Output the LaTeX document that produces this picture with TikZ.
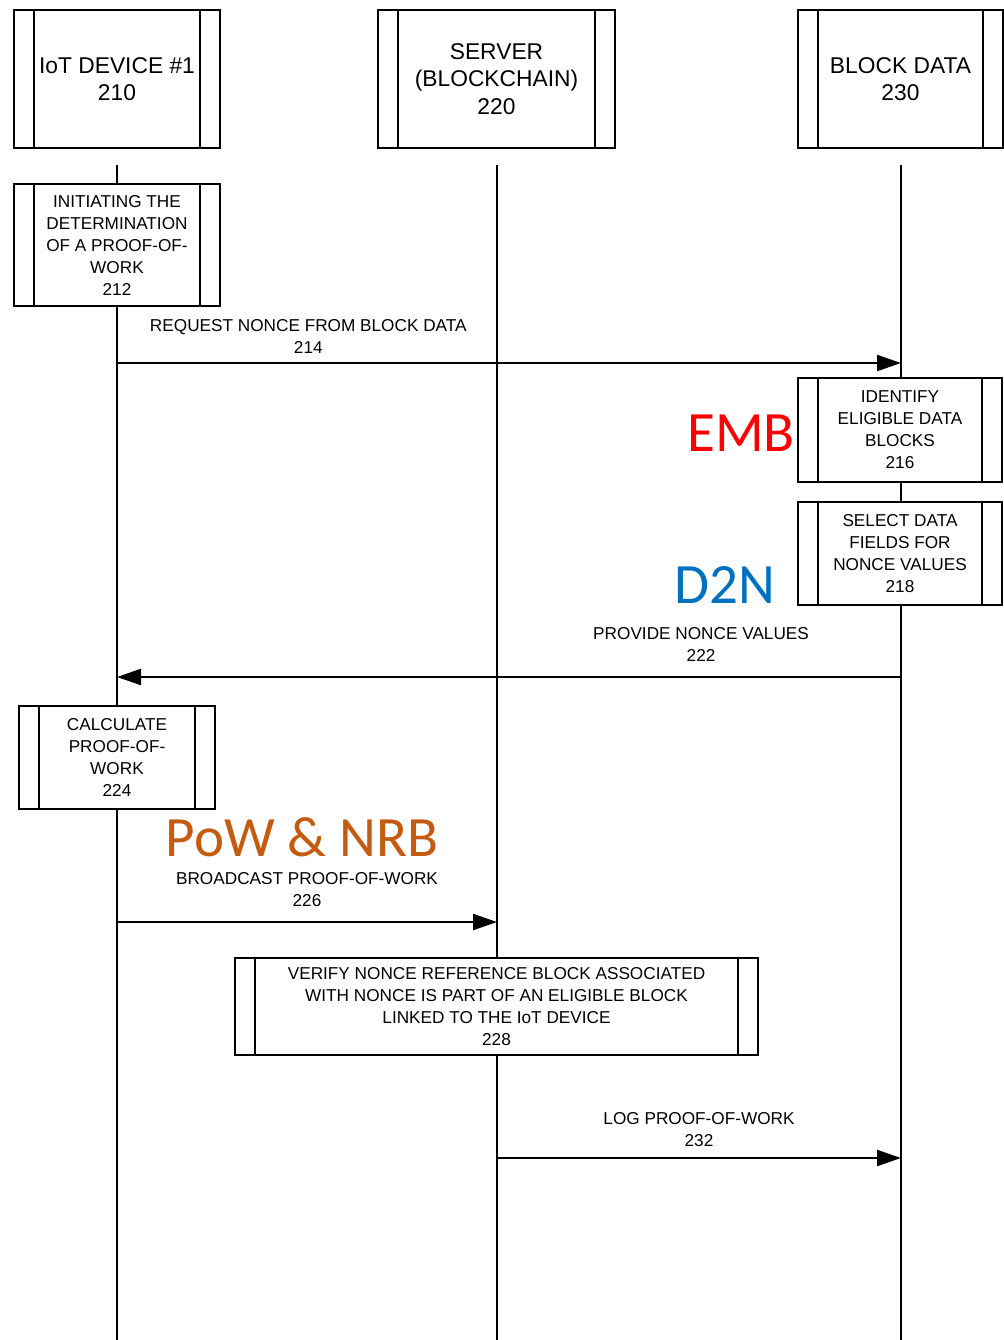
\documentclass[tikz,border=0pt]{standalone}
\usepackage{fontspec}
\setmainfont{Liberation Sans}
\newfontfamily\tagfont{Carlito}
\usetikzlibrary{arrows.meta}
\usetikzlibrary{positioning}

\definecolor{embred}{HTML}{FF0000}
\definecolor{dtwonblue}{HTML}{0070C0}
\definecolor{powbrown}{HTML}{C55A11}

\tikzset{
    sidebars/.style = {path picture={
        \draw[line width=1pt] ([xshift=10pt]path picture bounding box.north west)
            -- ([xshift=10pt]path picture bounding box.south west);
        \draw[line width=1pt] ([xshift=-10pt]path picture bounding box.north east)
            -- ([xshift=-10pt]path picture bounding box.south east);}}
}

\begin{document}
\begin{tikzpicture}[x=0.5pt, y=-0.5pt,
            head/.style = {draw, line width=1pt, fill=white, sidebars,
                align=center, inner sep=0pt,
                font=\fontsize{11.4}{13.8}\selectfont},
            act/.style = {draw, line width=1pt, fill=white, sidebars,
                align=center, inner sep=0pt,
                font=\fontsize{8.6}{11}\selectfont},
            life/.style = {line width=1.1pt},
            msg/.style = {line width=1.1pt, -{Triangle[length=12pt,width=8pt]}},
            lbl/.style = {above=4.2pt, inner sep=0pt, align=center,
                font=\fontsize{8.6}{11}\selectfont},
            tag/.style = {inner sep=0pt, font=\tagfont\fontsize{28.5}{30}\selectfont}]
            \useasboundingbox (0,0) rectangle (1004,1340);
            % lifelines
            \coordinate (iotA) at (117,165);
            \coordinate (iotB) at (117,1340);
            \coordinate (srvA) at (497,165);
            \coordinate (srvB) at (497,1340);
            \coordinate (blkA) at (901,165);
            \coordinate (blkB) at (901,1340);
            \draw[life] (iotA) -- (iotB);
            \draw[life] (srvA) -- (srvB);
            \draw[life] (blkA) -- (blkB);
            % heads
            \node[head, minimum width=103pt, minimum height=69pt] (iot) at (117,79)
                {IoT DEVICE \#1\\210};
            \node[head, minimum width=118.5pt, minimum height=69pt] (srv) at (496.5,79)
                {SERVER\\(BLOCKCHAIN)\\220};
            \node[head, minimum width=102.5pt, minimum height=69pt] (blk) at (900.5,79)
                {BLOCK DATA\\230};
            % activities
            \node[act, minimum width=103pt, minimum height=61pt] (a212) at (117,245)
                {INITIATING THE\\DETERMINATION\\OF A PROOF-OF-\\WORK\\212};
            \node[act, minimum width=102pt, minimum height=52pt] (a216) at (900,430)
                {IDENTIFY\\ELIGIBLE DATA\\BLOCKS\\216};
            \node[act, minimum width=102pt, minimum height=51.5pt] (a218) at (900,553.5)
                {SELECT DATA\\FIELDS FOR\\NONCE VALUES\\218};
            \node[act, minimum width=98pt, minimum height=51.5pt] (a224) at (117,757.5)
                {CALCULATE\\PROOF-OF-\\WORK\\224};
            \node[act, minimum width=261.5pt, minimum height=48.5pt] (a228) at (496.5,1006.5)
                {VERIFY NONCE REFERENCE BLOCK ASSOCIATED\\WITH NONCE IS PART OF AN ELIGIBLE BLOCK\\LINKED TO THE IoT DEVICE\\228};
            % messages
            \coordinate (m214a) at (117,363);
            \coordinate (m214b) at (901,363);
            \coordinate (m222a) at (901,677);
            \coordinate (m222b) at (117,677);
            \coordinate (m226a) at (117,922);
            \coordinate (m226b) at (497,922);
            \coordinate (m232a) at (497,1158);
            \coordinate (m232b) at (901,1158);
            \draw[msg] (m214a) -- node[lbl, pos=0.244] (l214) {REQUEST NONCE FROM BLOCK DATA\\214} (m214b);
            \draw[msg] (m222a) -- node[lbl, pos=0.255, yshift=3pt] (l222) {PROVIDE NONCE VALUES\\222} (m222b);
            \draw[msg] (m226a) -- node[lbl, yshift=3pt] (l226) {BROADCAST PROOF-OF-WORK\\226} (m226b);
            \draw[msg] (m232a) -- node[lbl, yshift=1pt] (l232) {LOG PROOF-OF-WORK\\232} (m232b);
            % tags
            \node[tag, text=embred] (emb) at (741,433) {EMB};
            \node[tag, text=dtwonblue] (d2n) at (725,585) {D2N};
            \node[tag, text=powbrown] (pow) at (302,837) {PoW \& NRB};
        \end{tikzpicture}
\end{document}
